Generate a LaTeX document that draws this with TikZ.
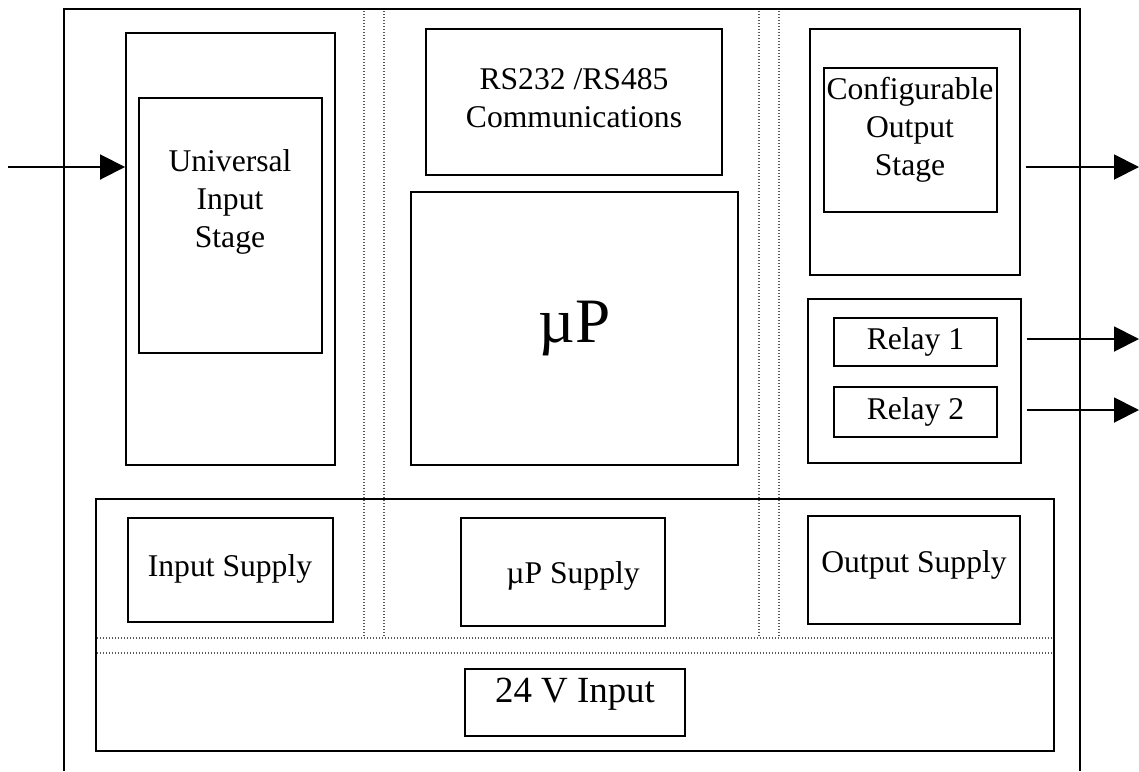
\documentclass[tikz,border=0pt]{standalone}
\usepackage{fontspec}
\setmainfont{Liberation Serif}
\usetikzlibrary{arrows.meta,fit}

\begin{document}
\begin{tikzpicture}[x=0.02cm,y=-0.02cm,
    box/.style={draw,line width=1.1pt,inner sep=0pt},
    lbl/.style={align=center,inner sep=0pt,font=\fontsize{18}{21.6}\selectfont},
    sep/.style={gray!70!black,line width=0.6pt,dash pattern=on 0.02cm off 0.04cm},
    arr/.style={line width=1.1pt,-{Triangle[length=0.5cm,width=0.5cm]}}]
  \useasboundingbox (0,0) rectangle (1139,771);

  % dotted separators
  \foreach \x in {364,384,759,779}
    \draw[sep] (\x,11) -- (\x,637);
  \draw[sep] (97,638) -- (1052,638);
  \draw[sep] (97,653) -- (1052,653);

  % frame
  \draw[line width=1.4pt] (64,771) -- (64,9) -- (1080,9) -- (1080,771);

  % input side
  \node[box,fit={(126,33) (335,465)}] (inouter) {};
  \node[box,fit={(139,98) (322,353)}] (instage) {};
  \node[lbl] (intext) at (230,202) {Universal\\Input\\Stage};

  % processor
  \node[box,fit={(426,29) (722,175)}] (comms) {};
  \node[lbl] (commstext) at (574,98) {RS232 /RS485\\Communications};
  \node[box,fit={(411,192) (738,465)}] (cpu) {};
  \node[lbl,font=\fontsize{36}{40}\selectfont] (cputext) at (cpu.center) {µP};

  % output side
  \node[box,fit={(810,29) (1020,275)}] (cfgouter) {};
  \node[box,fit={(824,68) (997,212)}] (cfgstage) {};
  \node[lbl] (cfgtext) at (910,130) {Configurable\\Output\\Stage};
  \node[box,fit={(808,299) (1021,463)}] (relays) {};
  \node[box,fit={(834,318) (997,366)}] (relay1) {};
  \node[lbl] (relay1text) at (relay1.center) {Relay 1};
  \node[box,fit={(834,387) (997,437)}] (relay2) {};
  \node[lbl] (relay2text) at (relay2.center) {Relay 2};

  % supplies
  \node[box,fit={(96,499) (1054,751)}] (supply) {};
  \node[box,fit={(128,518) (333,622)}] (insup) {};
  \node[lbl] (insuptext) at (230,569) {Input Supply};
  \node[box,fit={(461,518) (665,626)}] (cpusup) {};
  \node[lbl] (cpusuptext) at (573,576) {µP Supply};
  \node[box,fit={(808,516) (1020,624)}] (outsup) {};
  \node[lbl] (outsuptext) at (914,565) {Output Supply};
  \node[box,fit={(465,669) (685,736)}] (dcin) {};
  \node[lbl,font=\fontsize{21}{24}\selectfont] (dcintext) at (575,694) {24 V Input};

  % signals
  \coordinate (sigin) at (8,167);
  \coordinate (sigcfg) at (1139,167);
  \coordinate (sigr1) at (1139,339);
  \coordinate (sigr2) at (1139,410);
  \draw[arr] (sigin) -- (sigin -| inouter.west);
  \draw[arr,shorten <=0.1cm] (cfgouter.east |- sigcfg) -- (sigcfg);
  \draw[arr,shorten <=0.1cm] (relays.east |- sigr1) -- (sigr1);
  \draw[arr,shorten <=0.1cm] (relays.east |- sigr2) -- (sigr2);
\end{tikzpicture}
\end{document}
